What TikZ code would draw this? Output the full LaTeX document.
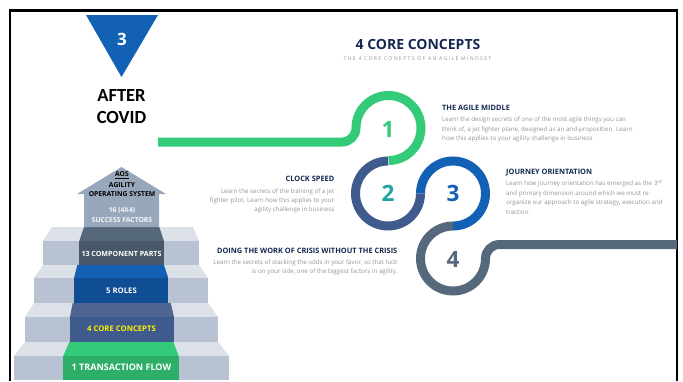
\documentclass[tikz,border=0pt]{standalone}
\usepackage{fontspec}
\setmainfont{Open Sans}
\newfontfamily\calfont{Carlito}
\definecolor{cgreen}{HTML}{33CB79}
\definecolor{cgreend}{HTML}{2EAF68}
\definecolor{cnavy}{HTML}{3F5B8D}
\definecolor{cnavyl}{HTML}{4E6592}
\definecolor{cblue}{HTML}{1261B5}
\definecolor{cblued}{HTML}{0F4E95}
\definecolor{cslate}{HTML}{56697C}
\definecolor{cslated}{HTML}{485868}
\definecolor{carrow}{HTML}{98A8BC}
\definecolor{steptop}{HTML}{DCE1E8}
\definecolor{stepfront}{HTML}{B8C2D2}
\definecolor{ink}{HTML}{14284F}
\definecolor{body}{HTML}{959595}
\definecolor{cteal}{HTML}{1FA6A0}
\tikzset{
  ribbon/.style={line width=9pt,line cap=butt},
  headl/.style={font=\bfseries\fontsize{7.4}{9}\selectfont,text=ink,inner sep=0pt},
  bodyl/.style={font=\fontsize{6.2}{8}\selectfont,text=body,inner sep=0pt},
  numl/.style={font=\bfseries\fontsize{22.5}{26}\selectfont,inner sep=0pt},
  stepl/.style={font=\bfseries\fontsize{7.7}{10}\selectfont,inner sep=0pt,text=white},
  arrl/.style={font=\bfseries\fontsize{6.8}{8}\selectfont,inner sep=0pt},
}
\begin{document}
\begin{tikzpicture}[x=1pt,y=-1pt]
\useasboundingbox (0,0) rectangle (683,381);
\fill[white] (0,0) rectangle (683,381);
% frame
\draw[black,line width=2.6pt] (10,381) -- (10,10.5) -- (677,10.5) -- (677,381);
% triangle
\fill[cblue] (86,15) -- (158,15) -- (121.5,77) -- cycle;
\node[font=\bfseries\fontsize{17}{19}\selectfont,text=white,inner sep=0pt] (tn) at (122,39.5) {3};
\node[font=\calfont\bfseries\fontsize{18.5}{22}\selectfont,text=black,inner sep=0pt] (ta) at (121.5,95.5) {AFTER};
\node[font=\calfont\bfseries\fontsize{18.5}{22}\selectfont,text=black,inner sep=0pt] (tb) at (121.5,117.5) {COVID};
% title
\node[font=\bfseries\fontsize{14}{16}\selectfont,text=ink,inner sep=0pt] (title) at (418,44) {4 CORE CONCEPTS};
\node[font=\fontsize{5.2}{6}\selectfont,text=body,inner sep=0pt] (sub) at (417.5,58.5) {\addfontfeatures{LetterSpace=25}THE 4 CORE CONEPTS OF AN AGILE MINDSET};
% steps: sides
\foreach \xa/\xb/\xc/\xd/\ya/\yb/\yc in {
  25/218/14/229/342/356/380,
  34/208/25/218/303/317/342,
  43/199/34/208/265/278/303,
  52/193/43/199/227/241/265}{
  \fill[steptop] (\xa,\ya) -- (\xb,\ya) -- (\xd,\yb) -- (\xc,\yb) -- cycle;
  \fill[stepfront] (\xc,\yb) rectangle (\xd,\yc);
}
% central strips
\foreach \xa/\xb/\xc/\xd/\ya/\yb/\yc/\ct/\cf in {
  69.3/173.3/63.3/178.7/342/356/380/cgreen/cgreend,
  72.7/170.7/70/174/303/317/342/cnavyl/cnavy,
  77.3/164/74/168.3/265/278/303/cblue/cblued,
  84/159.3/79.3/164/227/241/265/cslate/cslated}{
  \fill[\ct] (\xa,\ya) -- (\xb,\ya) -- (\xd,\yb) -- (\xc,\yb) -- cycle;
  \fill[\cf] (\xc,\yb) rectangle (\xd,\yc);
}
% arrow
\fill[carrow] (84,227) -- (84,194) -- (77,194) -- (121.5,167) -- (166,194) -- (159,194) -- (159,227) -- cycle;
\node[arrl,text=black] (aos) at (122,175) {\underline{AOS}};
\node[arrl,text=black] (ag) at (122,185.5) {AGILITY};
\node[arrl,text=black] (op) at (122,194.5) {OPERATING SYSTEM};
\node[arrl,text=white!90!carrow] (s1) at (122,210.5) {16 (4X4)};
\node[arrl,text=white!90!carrow] (s2) at (122,220.5) {SUCCESS FACTORS};
\node[stepl,font=\bfseries\fontsize{7.1}{9}\selectfont] (l13) at (121.5,253.5) {13 COMPONENT PARTS};
\node[stepl] (l5) at (121.5,291) {5 ROLES};
\node[stepl,text=yellow] (l4) at (121.5,329) {4 CORE CONCEPTS};
\node[stepl,font=\bfseries\fontsize{9}{11}\selectfont] (l1) at (121.5,367.5) {1 TRANSACTION FLOW};
% ribbons
\draw[ribbon,cgreen] (158,142) -- (342,142) arc[start angle=-90,end angle=0,radius=14pt]
  arc[start angle=180,end angle=-90,radius=32.5pt];
\draw[ribbon,cslate] (453,226) arc[start angle=90,end angle=360,radius=32.5pt]
  arc[start angle=180,end angle=90,radius=14pt] -- (677,244.5);
\draw[ribbon,cblue] (420.5,193.5) arc[start angle=180,end angle=-90,radius=32.5pt];
\draw[ribbon,cnavy] (388,161) arc[start angle=90,end angle=360,radius=32.5pt];
\node[numl,text=cgreen] (n1) at (388,129) {1};
\node[numl,text=cteal] (n2) at (388,193.5) {2};
\node[numl,text=cblue] (n3) at (453,193.5) {3};
\node[numl,text=cslate] (n4) at (453,259) {4};
% right texts
\node[headl,anchor=base west] (h1) at (442,110.4) {THE AGILE MIDDLE};
\node[bodyl,anchor=base west] (b1a) at (442,121.5) {Learn the design secrets of one of the most agile things you can};
\node[bodyl,anchor=base west] (b1b) at (442,131) {think of, a jet fighter plane, designed as an and-proposition.  Learn};
\node[bodyl,anchor=base west] (b1c) at (442,140.4) {how this applies to your agility challenge in business};
\node[headl,anchor=base west] (h3) at (506,174.4) {JOURNEY ORIENTATION};
\node[bodyl,anchor=base west] (b3a) at (506,185.7) {Learn how journey orientation has emerged as the 3\textsuperscript{rd}};
\node[bodyl,anchor=base west] (b3b) at (506,195) {and primary dimension around which we must re-};
\node[bodyl,anchor=base west] (b3c) at (506,204.7) {organize our approach to agile strategy, execution and};
\node[bodyl,anchor=base west] (b3d) at (506,214) {traction.};
% left texts
\node[headl,anchor=base east] (h2) at (334.5,181.7) {CLOCK SPEED};
\node[bodyl,anchor=base east] (b2a) at (334.5,193) {Learn the secrets of the training of  a jet};
\node[bodyl,anchor=base east] (b2b) at (334.5,202.2) {fighter pilot. Learn how this applies to your};
\node[bodyl,anchor=base east] (b2c) at (334.5,211.7) {agility challenge in business};
\node[headl,anchor=base east] (h4) at (397.5,253) {DOING THE WORK OF CRISIS WITHOUT THE CRISIS};
\node[bodyl,anchor=base east] (b4a) at (397.5,264.3) {Learn the secrets of stacking the odds in your favor, so that luck};
\node[bodyl,anchor=base east] (b4b) at (397.5,273.7) {is on your side, one of the biggest factors in agility.};
\end{tikzpicture}
\end{document}
